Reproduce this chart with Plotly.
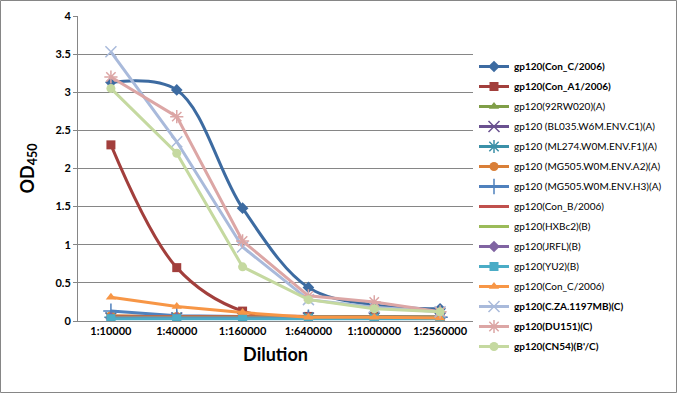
import plotly.graph_objects as go

categories = ["1:10000", "1:40000", "1:160000", "1:640000", "1:1000000", "1:2560000"]

names = [
    "gp120(Con_C/2006)", "gp120(Con_A1/2006)", "gp120(92RW020)(A)",
    "gp120 (BL035.W6M.ENV.C1)(A)", "gp120 (ML274.W0M.ENV.F1)(A)",
    "gp120 (MG505.W0M.ENV.A2)(A)", "gp120 (MG505.W0M.ENV.H3)(A)",
    "gp120(Con_B/2006)", "gp120(HXBc2)(B)", "gp120(JRFL)(B)", "gp120(YU2)(B)",
    "gp120(Con_C/2006)", "gp120(C.ZA.1197MB)(C)", "gp120(DU151)(C)", "gp120(CN54)(B'/C)",
]
bold = [True, True, False, False, False, False, False, False, False, False, False, False, True, True, True]

con_c_2006_a = [3.13, 3.03, 1.48, 0.44, 0.21, 0.16]
con_a1_2006 = [2.31, 0.70, 0.13, 0.06, 0.06, 0.05]
rw020 = [0.05, 0.05, 0.05, 0.05, 0.05, 0.05]
bl035 = [0.04, 0.04, 0.04, 0.04, 0.04, 0.04]
ml274 = [0.05, 0.05, 0.05, 0.05, 0.05, 0.05]
mg505_a2 = [0.07, 0.06, 0.06, 0.05, 0.05, 0.05]
mg505_h3 = [0.13, 0.07, 0.06, 0.05, 0.05, 0.05]
con_b = [0.06, 0.06, 0.06, 0.05, 0.05, 0.05]
hxbc2 = [0.05, 0.05, 0.05, 0.05, 0.05, 0.05]
jrfl = [0.04, 0.04, 0.04, 0.04, 0.04, 0.04]
yu2 = [0.03, 0.03, 0.03, 0.03, 0.03, 0.03]
con_c_2006_b = [0.31, 0.19, 0.11, 0.05, 0.05, 0.04]
cza1197 = [3.53, 2.35, 0.97, 0.28, 0.18, 0.12]
du151 = [3.20, 2.68, 1.05, 0.33, 0.25, 0.12]
cn54 = [3.05, 2.20, 0.71, 0.28, 0.16, 0.12]

series = [con_c_2006_a, con_a1_2006, rw020, bl035, ml274, mg505_a2, mg505_h3,
          con_b, hxbc2, jrfl, yu2, con_c_2006_b, cza1197, du151, cn54]

colors = ["#3D6BA1", "#A23F3C", "#7F9E47", "#6A5190", "#3B90A8", "#D97F38", "#4F81BD",
          "#C0504D", "#9BBB59", "#8064A2", "#4BACC6", "#F79646", "#A9BADB", "#DCA6A5", "#C5D9A0"]
symbols = ["diamond", "square", "triangle-up", "x-thin", "asterisk", "circle", "cross-thin",
           None, None, "diamond", "square", "triangle-up", "x-thin", "asterisk", "circle"]
shapes_line = ["spline", "spline"] + ["linear"] * 13

fig = go.Figure()
for i, (nm, ys) in enumerate(zip(names, series)):
    sym = symbols[i]
    thin = sym in ("x-thin", "asterisk", "cross-thin")
    marker = dict(symbol=sym or "circle", size=9 if not thin else 11, color=colors[i],
                  line=dict(color=colors[i], width=1.5 if thin else 0))
    label = f"<b>{nm}</b>" if bold[i] else nm
    fig.add_trace(go.Scatter(
        x=categories, y=ys, name=label, legendgroup=f"g{i}",
        mode="lines+markers" if sym else "lines",
        line=dict(color=colors[i], width=3, shape=shapes_line[i], smoothing=1.0),
        marker=marker,
    ))

W, H = 678, 394
L, R, T, B = 78, 205, 16, 73
pw, ph = W - L - R, H - T - B

fig.update_layout(
    width=W, height=H,
    margin=dict(l=L, r=R, t=T, b=B, autoexpand=False),
    paper_bgcolor="white", plot_bgcolor="white",
    font=dict(family="Lato, Liberation Sans, sans-serif", color="black", size=11),
    showlegend=True,
    legend=dict(x=(474 - L) / pw, xanchor="left", xref="paper",
                y=(H - B - 52) / ph, yanchor="top", maxheight=H,
                font=dict(size=10, family="Lato, Liberation Sans, sans-serif"),
                tracegroupgap=1, itemwidth=30, bgcolor="rgba(0,0,0,0)"),
    xaxis=dict(type="category", range=[-0.5, 5.5], showgrid=False,
               showline=True, linecolor="#868686", linewidth=1,
               ticks="", tickfont=dict(size=11, family="Lato, sans-serif"),
               tickvals=categories, ticktext=[f"<b>{c}</b>" for c in categories],
               automargin=False,
               title=dict(text="<b>Dilution</b>", font=dict(size=18), standoff=12)),
    yaxis=dict(range=[0, 4], dtick=0.5, showgrid=True, gridcolor="#868686", gridwidth=1,
               showline=True, linecolor="#868686", linewidth=1, zeroline=False,
               ticks="outside", ticklen=4, tickcolor="#868686",
               tickvals=[0, 0.5, 1, 1.5, 2, 2.5, 3, 3.5, 4],
               ticktext=["<b>0</b>", "<b>0.5</b>", "<b>1</b>", "<b>1.5</b>", "<b>2</b>",
                         "<b>2.5</b>", "<b>3</b>", "<b>3.5</b>", "<b>4</b>"],
               tickfont=dict(size=11, family="Lato, sans-serif"),
               automargin=False,
               title=dict(text="<b>OD<sub>450</sub></b>", font=dict(size=18), standoff=16)),
)

fig.add_shape(type="rect", xref="paper", yref="paper",
              x0=(0.5 - L) / pw, x1=(W - 1.5 - L) / pw,
              y0=(H - B - (H - 1.5)) / ph, y1=(H - B - 0.5) / ph,
              line=dict(color="#868686", width=1), layer="below")

fig.write_html("out.html", config={"displayModeBar": False},
               post_script="document.body.style.margin='0';document.body.style.overflow='hidden';")
